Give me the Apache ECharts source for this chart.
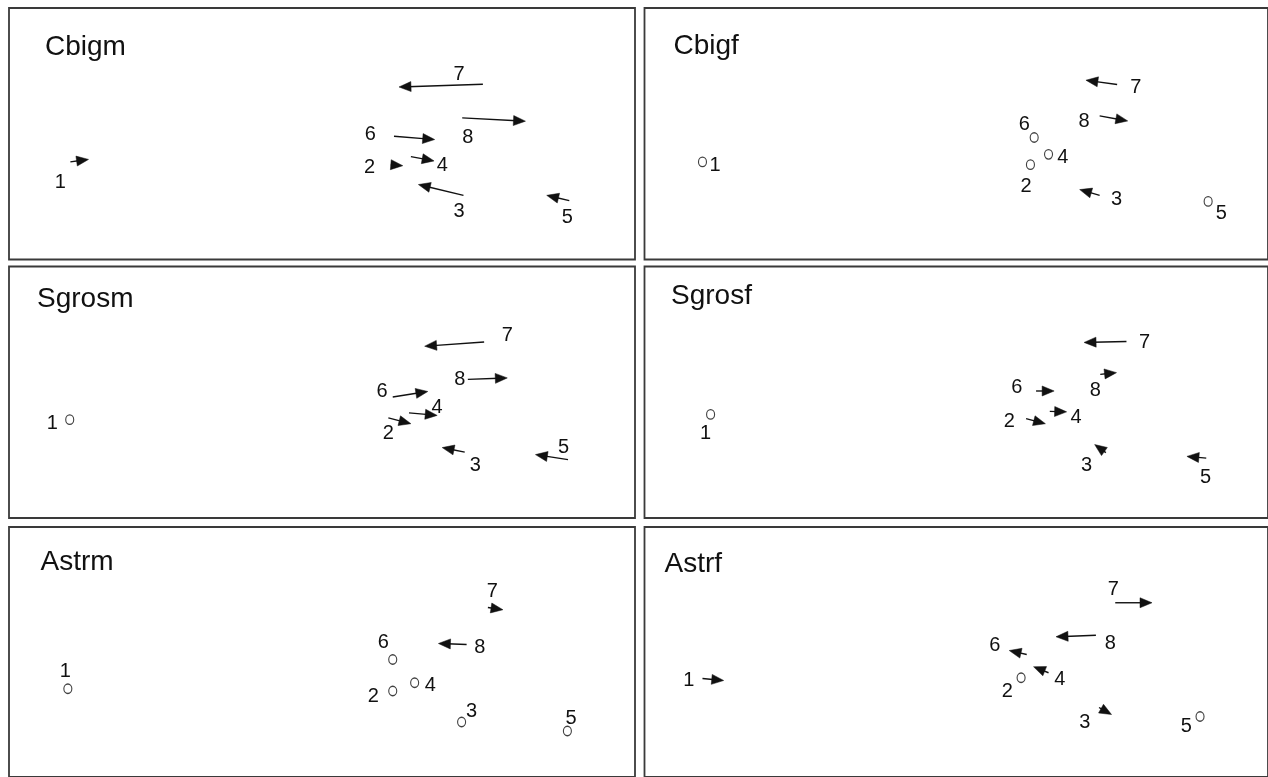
<!DOCTYPE html>
<html>
<head>
<meta charset="utf-8">
<script src="https://cdn.jsdelivr.net/npm/echarts@6/dist/echarts.min.js"></script>
<style>
html,body{margin:0;padding:0;background:#fff;}
#chart{width:1268px;height:777px;}
</style>
</head>
<body>
<div id="chart"></div>
<script>
// ---- DATA (ordination scores on a 0-100 scale per panel) ----
const panelNames = ['Cbigm', 'Cbigf', 'Sgrosm', 'Sgrosf', 'Astrm', 'Astrf'];

// arrows: [site, xFrom, yFrom, xTo, yTo]; circles: [x, y]; labels: [x, y, site]
const cbigmArrows = [
  ['1', 9.8, 38.8, 12.7, 39.8], ['7', 75.7, 69.7, 62.3, 68.6], ['8', 72.4, 56.3, 82.5, 55.0],
  ['6', 61.5, 49.0, 68.0, 47.7], ['2', 61.0, 37.7, 62.9, 37.3], ['4', 64.2, 40.9, 67.9, 39.2],
  ['3', 72.6, 25.5, 65.4, 29.8], ['5', 89.5, 23.4, 85.9, 25.5]
];
const cbigmCircles = [];
const cbigmLabels = [
  [8.2, 30.8, '1'], [71.9, 73.7, '7'], [73.3, 48.7, '8'], [57.7, 49.8, '6'],
  [57.6, 36.5, '2'], [69.2, 37.5, '4'], [71.9, 19.2, '3'], [89.2, 16.6, '5']
];

const cbigfArrows = [
  ['7', 75.8, 69.6, 70.8, 71.3], ['8', 73.0, 57.1, 77.5, 55.1], ['3', 73.0, 25.5, 69.8, 27.8]
];
const cbigfCircles = [[9.3, 38.8], [62.5, 48.5], [64.8, 41.8], [61.9, 37.7], [90.4, 23.1]];
const cbigfLabels = [
  [11.3, 37.2, '1'], [78.8, 68.4, '7'], [70.5, 54.9, '8'], [60.9, 53.8, '6'],
  [67.1, 40.5, '4'], [61.2, 29.2, '2'], [75.7, 23.8, '3'], [92.5, 18.4, '5']
];

const sgrosmArrows = [
  ['7', 75.9, 70.0, 66.4, 68.3], ['8', 73.3, 55.1, 79.6, 55.7], ['6', 61.3, 48.1, 66.9, 50.3],
  ['4', 63.9, 41.8, 68.4, 40.8], ['2', 60.6, 39.8, 64.2, 37.5], ['3', 72.8, 26.2, 69.2, 28.0],
  ['5', 89.3, 23.2, 84.1, 25.2]
];
const sgrosmCircles = [[9.7, 39.1]];
const sgrosmLabels = [
  [6.9, 37.5, '1'], [79.6, 72.7, '7'], [72.0, 55.2, '8'], [59.6, 50.5, '6'],
  [68.4, 44.1, '4'], [60.6, 33.8, '2'], [74.5, 20.9, '3'], [88.6, 28.2, '5']
];

const sgrosfArrows = [
  ['7', 77.3, 70.2, 70.5, 69.8], ['8', 73.1, 57.1, 75.7, 57.8], ['6', 62.8, 50.5, 65.7, 50.5],
  ['4', 65.0, 42.4, 67.7, 42.2], ['2', 61.2, 39.5, 64.3, 37.5], ['3', 74.0, 26.0, 72.2, 29.2],
  ['5', 90.1, 23.8, 87.0, 24.5]
];
const sgrosfCircles = [[10.6, 41.2]];
const sgrosfLabels = [
  [9.8, 33.5, '1'], [80.2, 69.6, '7'], [72.3, 50.8, '8'], [59.7, 51.7, '6'],
  [69.2, 39.9, '4'], [58.5, 38.3, '2'], [70.9, 20.9, '3'], [90.0, 16.0, '5']
];

const astrmArrows = [['7', 76.5, 67.8, 78.9, 66.9], ['8', 73.1, 53.0, 68.6, 53.4]];
const astrmCircles = [[9.4, 35.3], [61.3, 47.0], [64.8, 37.7], [61.3, 34.4], [72.3, 22.0], [89.2, 18.4]];
const astrmLabels = [
  [9.0, 42.4, '1'], [77.2, 74.2, '7'], [75.2, 51.7, '8'], [59.8, 53.7, '6'],
  [67.3, 36.8, '4'], [58.2, 32.4, '2'], [73.9, 26.4, '3'], [89.8, 23.4, '5']
];

const astrfArrows = [
  ['1', 9.3, 39.4, 12.7, 38.6], ['7', 75.5, 69.7, 81.4, 69.7], ['8', 72.4, 56.7, 66.0, 56.1],
  ['6', 61.3, 49.0, 58.5, 50.6], ['4', 64.8, 41.7, 62.4, 44.1], ['3', 72.9, 27.8, 74.9, 25.0]
];
const astrfCircles = [[60.4, 39.7], [89.1, 24.2]];
const astrfLabels = [
  [7.1, 38.8, '1'], [75.2, 75.2, '7'], [74.7, 53.3, '8'], [56.2, 52.6, '6'],
  [66.6, 39.0, '4'], [58.2, 34.1, '2'], [70.6, 22.0, '3'], [86.9, 20.2, '5']
];

const axisMin = 0, axisMax = 100;

// ---- LAYOUT / STYLE ----
const panels = [
  {arrows: cbigmArrows, circles: cbigmCircles, labels: cbigmLabels},
  {arrows: cbigfArrows, circles: cbigfCircles, labels: cbigfLabels},
  {arrows: sgrosmArrows, circles: sgrosmCircles, labels: sgrosmLabels},
  {arrows: sgrosfArrows, circles: sgrosfCircles, labels: sgrosfLabels},
  {arrows: astrmArrows, circles: astrmCircles, labels: astrmLabels},
  {arrows: astrfArrows, circles: astrfCircles, labels: astrfLabels}
];
const gridBoxes = [
  {left: 9, top: 8}, {left: 644.5, top: 8},
  {left: 9, top: 266.5}, {left: 644.5, top: 266.5},
  {left: 9, top: 527}, {left: 644.5, top: 527}
];
const titlePos = [[45, 47], [673.5, 46.5], [37, 299], [671, 296], [40.5, 562], [664.5, 564]];
const panelW = 626, panelH = 251.5;
const FONT = '"Liberation Sans", Arial, Helvetica, sans-serif';
const INK = '#111';

function renderArrow(params, api) {
  const s = api.coord([api.value(1), api.value(2)]);
  const e = api.coord([api.value(3), api.value(4)]);
  const dx = e[0] - s[0], dy = e[1] - s[1];
  const len = Math.hypot(dx, dy) || 1;
  const ux = dx / len, uy = dy / len;
  const hl = 12, hw = 5;
  const bx = e[0] - ux * hl, by = e[1] - uy * hl;
  const px = -uy, py = ux;
  const children = [];
  if (len > hl * 0.8) {
    children.push({
      type: 'line',
      shape: {x1: s[0], y1: s[1], x2: e[0] - ux * hl * 0.7, y2: e[1] - uy * hl * 0.7},
      style: {stroke: INK, lineWidth: 1.4}
    });
  }
  children.push({
    type: 'polygon',
    shape: {points: [[e[0], e[1]], [bx + px * hw, by + py * hw], [bx - px * hw, by - py * hw]]},
    style: {fill: INK, stroke: INK, lineWidth: 0.5}
  });
  return {type: 'group', children: children};
}

function renderLabel(params, api) {
  const p = api.coord([api.value(0), api.value(1)]);
  return {
    type: 'text', x: p[0], y: p[1],
    style: {
      text: String(params.context.labels[params.dataIndex][2]),
      font: '20px ' + FONT, fill: INK, align: 'center', verticalAlign: 'middle'
    }
  };
}

const grid = [], xAxis = [], yAxis = [], series = [], graphic = [];
panels.forEach((p, i) => {
  grid.push({
    left: gridBoxes[i].left, top: gridBoxes[i].top, width: panelW, height: panelH,
    show: true, borderColor: '#3a3a3a', borderWidth: 1.8, backgroundColor: 'transparent'
  });
  xAxis.push({type: 'value', gridIndex: i, min: axisMin, max: axisMax, show: false});
  yAxis.push({type: 'value', gridIndex: i, min: axisMin, max: axisMax, show: false});
  series.push({
    type: 'custom', xAxisIndex: i, yAxisIndex: i, renderItem: renderArrow,
    data: p.arrows, silent: true, animation: false
  });
  series.push({
    type: 'scatter', xAxisIndex: i, yAxisIndex: i, symbol: 'circle', symbolSize: [8, 9.5],
    itemStyle: {color: '#fff', borderColor: INK, borderWidth: 1.2},
    data: p.circles, silent: true, animation: false
  });
  series.push({
    type: 'custom', xAxisIndex: i, yAxisIndex: i,
    renderItem: (params, api) => {
      params.context.labels = p.labels;
      return renderLabel(params, api);
    },
    data: p.labels.map(l => [l[0], l[1]]), silent: true, animation: false
  });
  graphic.push({
    type: 'text', x: titlePos[i][0], y: titlePos[i][1], silent: true,
    style: {text: panelNames[i], font: '28px ' + FONT, fill: INK, align: 'left', verticalAlign: 'middle'}
  });
});

const chart = echarts.init(document.getElementById('chart'), null, {renderer: 'canvas'});
chart.setOption({
  backgroundColor: '#fff',
  animation: false,
  grid, xAxis, yAxis, series, graphic
});
</script>
</body>
</html>
